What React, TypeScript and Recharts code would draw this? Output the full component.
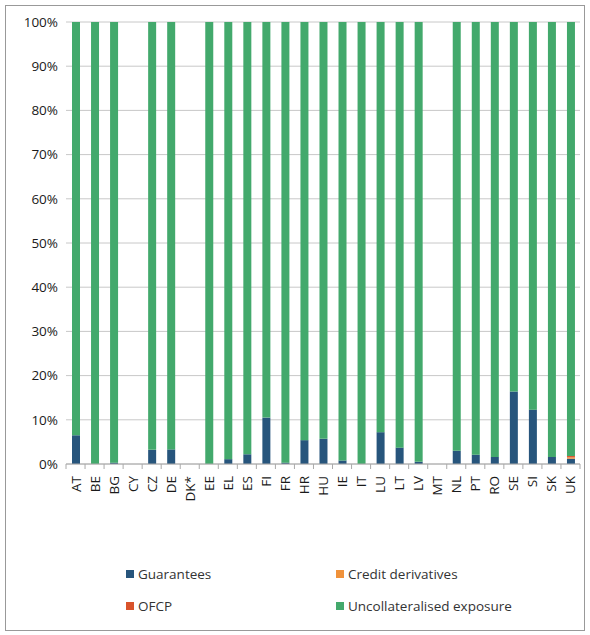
import React from "react";
import { Bar, BarChart, CartesianGrid, XAxis, YAxis } from "recharts";

const countries = ["AT", "BE", "BG", "CY", "CZ", "DE", "DK*", "EE", "EL", "ES", "FI", "FR", "HR", "HU", "IE", "IT", "LU", "LT", "LV", "MT", "NL", "PT", "RO", "SE", "SI", "SK", "UK"];
const guarantees = [6.5, 0, 0.3, null, 3.2, 3.3, null, 0, 1.1, 2.2, 10.5, 0.3, 5.4, 5.7, 0.8, 0, 7.2, 3.7, 0.5, null, 3.0, 2.1, 1.6, 16.4, 12.3, 1.6, 1.2];
const creditDerivatives = [0, 0, 0, null, 0, 0, null, 0, 0, 0, 0, 0, 0, 0, 0, 0, 0, 0, 0, null, 0, 0, 0, 0, 0, 0, 0.3];
const ofcp = [0, 0, 0, null, 0, 0, null, 0, 0, 0, 0, 0, 0, 0, 0, 0, 0, 0, 0, null, 0, 0, 0, 0, 0, 0, 0.3];
const uncollateralised = [93.5, 100, 99.7, null, 96.8, 96.7, null, 100, 98.9, 97.8, 89.5, 99.7, 94.6, 94.3, 99.2, 100, 92.8, 96.3, 99.5, null, 97.0, 97.9, 98.4, 83.6, 87.7, 98.4, 98.2];
const yTicks = [0, 10, 20, 30, 40, 50, 60, 70, 80, 90, 100];

const series = [
  { key: "guarantees", name: "Guarantees", color: "#27557c" },
  { key: "creditDerivatives", name: "Credit derivatives", color: "#f0923a" },
  { key: "ofcp", name: "OFCP", color: "#d9532b" },
  { key: "uncollateralised", name: "Uncollateralised exposure", color: "#43a96c" },
];

const data = countries.map((c, i) => ({
  country: c,
  guarantees: guarantees[i],
  creditDerivatives: creditDerivatives[i],
  ofcp: ofcp[i],
  uncollateralised: uncollateralised[i],
}));

const font = "'Open Sans', sans-serif";

function CountryTick(props: any) {
  const { x, y, payload, index } = props;
  const half = payload.offset ?? 9.5;
  return (
    <g>
      <line x1={x - half} x2={x - half} y1={y - 8} y2={y - 3} stroke="#aaa" />
      {index === countries.length - 1 && (
        <line x1={x + half} x2={x + half} y1={y - 8} y2={y - 3} stroke="#aaa" />
      )}
      <text x={x} y={y} dy={4} transform={`rotate(-90, ${x}, ${y + 4})`} textAnchor="end" dominantBaseline="central" fontSize={13.5} fill="#1a1a1a" fontFamily={font}>
        {payload.value}
      </text>
    </g>
  );
}

function Swatch({ color, name }: { color: string; name: string }) {
  return (
    <div style={{ display: "flex", alignItems: "center", fontFamily: font, fontSize: 13.5, color: "#333" }}>
      <span style={{ width: 8, height: 8, background: color, marginRight: 4, display: "inline-block" }} />
      {name}
    </div>
  );
}

export default function App() {
  return (
    <div style={{ position: "absolute", left: 5, top: 5, width: 578, height: 624, border: "1px solid #999", background: "#fff" }}>
      <BarChart width={578} height={520} data={data} margin={{ top: 16, right: 4, bottom: 12, left: 10 }} barSize={8}>
        <CartesianGrid vertical={false} stroke="#c8c8c8" />
        <XAxis dataKey="country" interval={0} height={50} tickLine={false} stroke="#aaa" tick={<CountryTick />} />
        <YAxis domain={[0, 100]} ticks={yTicks} width={50} axisLine={false} tickLine={false} tickFormatter={(v) => `${v}%`} tick={{ fontSize: 13.5, fill: "#1a1a1a", fontFamily: font }} />
        {series.map((s) => (
          <Bar key={s.key} dataKey={s.key} name={s.name} stackId="a" fill={s.color} isAnimationActive={false} />
        ))}
      </BarChart>
      <div style={{ position: "absolute", left: 120, top: 559, display: "grid", gridTemplateColumns: "210px 220px", rowGap: 14 }}>
        <Swatch color={series[0].color} name={series[0].name} />
        <Swatch color={series[1].color} name={series[1].name} />
        <Swatch color={series[2].color} name={series[2].name} />
        <Swatch color={series[3].color} name={series[3].name} />
      </div>
    </div>
  );
}
